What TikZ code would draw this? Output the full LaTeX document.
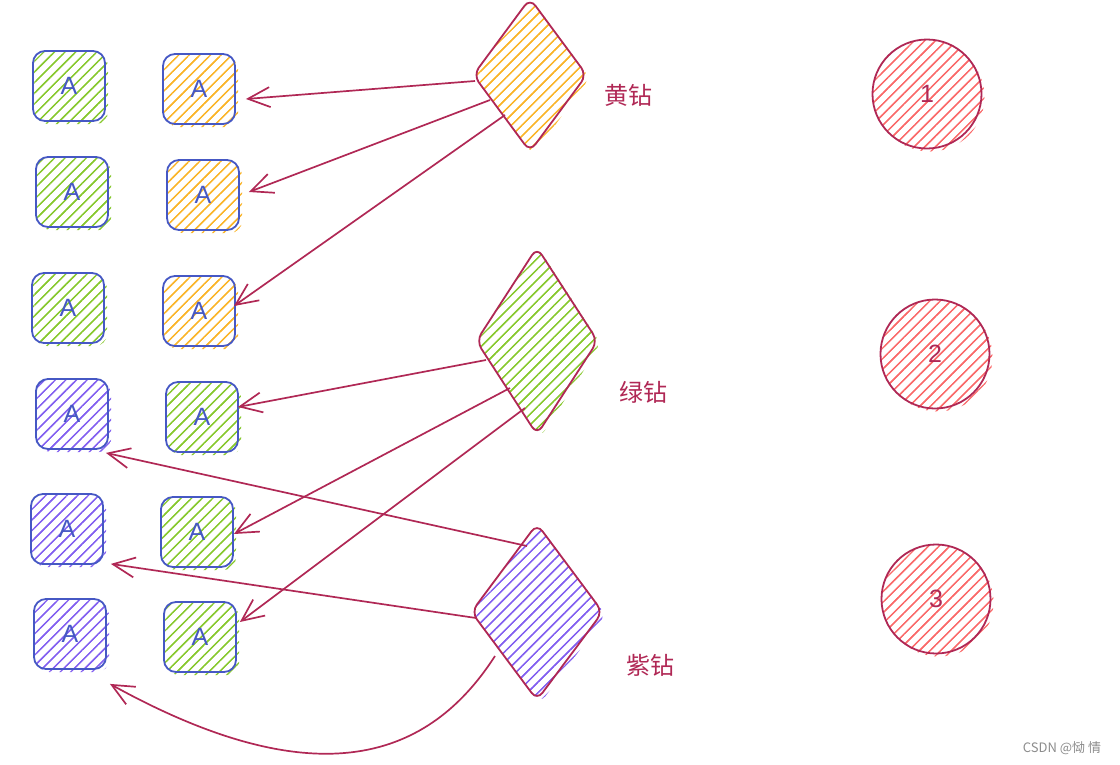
\documentclass[tikz,border=0pt]{standalone}
\usepackage{fontspec}
\setmainfont{Liberation Sans}
\newfontfamily\cjk{Noto Sans CJK SC}
\usetikzlibrary{shapes.geometric,arrows.meta,patterns.meta,calc}
\definecolor{boxblue}{RGB}{70,88,196}
\definecolor{crim}{RGB}{176,40,85}
\definecolor{hgreen}{RGB}{135,200,45}
\definecolor{horange}{RGB}{250,180,40}
\definecolor{hpurple}{RGB}{130,95,240}
\definecolor{hred}{RGB}{250,105,105}
\newcommand{\mkbox}[4]{%
  \node[boxshape, hatchfill, pattern color=#4] (#1h) at ($(#2,#3)+(3,3)$) {};
  \node[boxshape, hatchfill, pattern color=#4, draw=boxblue, line width=1.8pt] (#1) at (#2,#3) {A};
}
\begin{document}
\begin{tikzpicture}[x=1pt,y=-1pt,
  hatchfill/.style={pattern={Lines[angle=45,distance=7.5pt,line width=1.3pt]}},
  boxshape/.style={rectangle, rounded corners=12pt, minimum width=72pt, minimum height=70pt, inner sep=0pt,
    text=boxblue, font=\fontsize{25}{25}\selectfont},
  diashape/.style={diamond, inner sep=0pt, rounded corners=9pt},
  circshape/.style={circle, inner sep=0pt, minimum size=109pt, text=crim, font=\fontsize{25}{25}\selectfont},
  lbl/.style={text=crim, font=\cjk\fontsize{24}{24}\selectfont, inner sep=0pt},
  arr/.style={draw=crim, line width=1.7pt, -{Straight Barb[length=22pt,width=20pt]}}
]
\useasboundingbox (0,0) rectangle (1120,764);
% boxes column 1
\mkbox{b11}{69}{86}{hgreen}
\mkbox{b12}{72}{192}{hgreen}
\mkbox{b13}{68}{308}{hgreen}
\mkbox{b14}{72}{414}{hpurple}
\mkbox{b15}{67}{529}{hpurple}
\mkbox{b16}{70}{634}{hpurple}
% boxes column 2
\mkbox{b21}{199}{89}{horange}
\mkbox{b22}{203}{195}{horange}
\mkbox{b23}{199}{311}{horange}
\mkbox{b24}{202}{417}{hgreen}
\mkbox{b25}{197}{532}{hgreen}
\mkbox{b26}{200}{637}{hgreen}
% diamonds
\node[diashape, hatchfill, pattern color=horange, minimum width=114pt, minimum height=154pt] (d1h) at (533,78) {};
\node[diashape, hatchfill, pattern color=horange, draw=crim, line width=1.8pt, minimum width=114pt, minimum height=154pt] (d1) at (530,75) {};
\node[diashape, hatchfill, pattern color=hgreen, minimum width=122pt, minimum height=188pt] (d2h) at (540,344) {};
\node[diashape, hatchfill, pattern color=hgreen, draw=crim, line width=1.8pt, minimum width=122pt, minimum height=188pt] (d2) at (537,341) {};
\node[diashape, hatchfill, pattern color=hpurple, minimum width=132pt, minimum height=177pt] (d3h) at (540,615) {};
\node[diashape, hatchfill, pattern color=hpurple, draw=crim, line width=1.8pt, minimum width=132pt, minimum height=177pt] (d3) at (537,612) {};
% labels
\node[lbl] (l1) at (628,95) {黄钻};
\node[lbl] (l2) at (643,392) {绿钻};
\node[lbl] (l3) at (650,665) {紫钻};
% circles
\node[circshape, hatchfill, pattern color=hred] (c1h) at (930,97) {};
\node[circshape, hatchfill, pattern color=hred, draw=crim, line width=1.8pt] (c1) at (927,94) {1};
\node[circshape, hatchfill, pattern color=hred] (c2h) at (938,357) {};
\node[circshape, hatchfill, pattern color=hred, draw=crim, line width=1.8pt] (c2) at (935,354) {2};
\node[circshape, hatchfill, pattern color=hred] (c3h) at (939,602) {};
\node[circshape, hatchfill, pattern color=hred, draw=crim, line width=1.8pt] (c3) at (936,599) {3};
% arrows from yellow diamond
\draw[arr] ($(d1.center)+(-55,6)$) -- ($(b21.east)+(10,10)$);
\draw[arr] ($(d1.center)+(-40,25)$) -- ($(b22.east)+(9,-3)$);
\draw[arr] ($(d1.center)+(-25,40)$) -- ($(b23.east)+(-2,-5)$);
% arrows from green diamond
\draw[arr] ($(d2.center)+(-51,19)$) -- ($(b24.east)+(-1,-10)$);
\draw[arr] ($(d2.center)+(-27,47)$) -- ($(b25.east)+(0,2)$);
\draw[arr] ($(d2.center)+(-12,67)$) -- ($(b26.east)+(3,-15)$);
% arrows from purple diamond
\draw[arr] ($(d3.center)+(-10,-66)$) -- ($(b14.south east)+(-3,3)$);
\draw[arr] ($(d3.center)+(-61,6)$) -- ($(b15.south east)+(7,-1)$);
\draw[arr] ($(d3.center)+(-42,44)$) .. controls (430,757) and (320,800) .. ($(b16.south east)+(3,14)$);
% watermark
\node[text=black!45, font=\cjk\fontsize{13}{13}\selectfont, inner sep=0pt] (wm) at (1062,748) {CSDN @恸\ 情};
\end{tikzpicture}
\end{document}
